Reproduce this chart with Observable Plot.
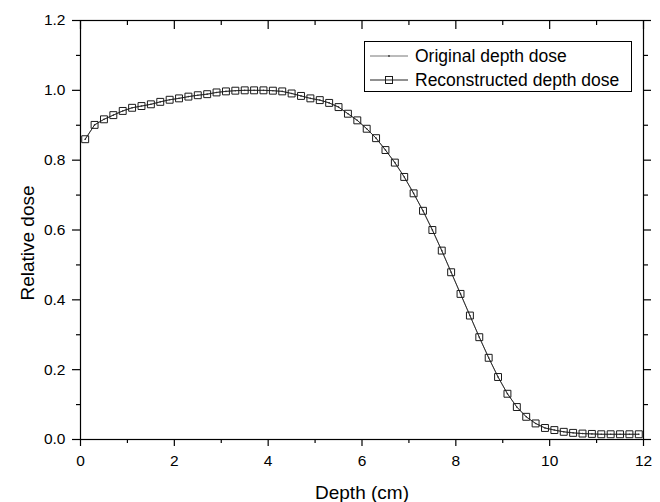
<!DOCTYPE html>
<html>
<head>
<meta charset="utf-8">
<script src="https://cdn.jsdelivr.net/npm/d3@7"></script>
<script src="https://cdn.jsdelivr.net/npm/@observablehq/plot@0.6"></script>
<style>
  body { margin: 0; background: #fff; }
  #chart { position: relative; width: 660px; height: 502px; }
</style>
</head>
<body>
<div id="chart"></div>
<script>
// Depth (cm) of each sampled point
const depth = [0.1, 0.3, 0.5, 0.7, 0.9, 1.1, 1.3, 1.5, 1.7, 1.9,
  2.1, 2.3, 2.5, 2.7, 2.9, 3.1, 3.3, 3.5, 3.7, 3.9,
  4.1, 4.3, 4.5, 4.7, 4.9, 5.1, 5.3, 5.5, 5.7, 5.9,
  6.1, 6.3, 6.5, 6.7, 6.9, 7.1, 7.3, 7.5, 7.7, 7.9,
  8.1, 8.3, 8.5, 8.7, 8.9, 9.1, 9.3, 9.5, 9.7, 9.9,
  10.1, 10.3, 10.5, 10.7, 10.9, 11.1, 11.3, 11.5, 11.7, 11.9];

// Original depth dose
const originalDose = [0.860, 0.901, 0.917, 0.929, 0.941, 0.950, 0.955, 0.960, 0.967, 0.973,
  0.977, 0.982, 0.986, 0.989, 0.994, 0.997, 0.999, 1.000, 1.000, 1.000,
  0.999, 0.997, 0.991, 0.984, 0.977, 0.972, 0.964, 0.952, 0.933, 0.914,
  0.890, 0.863, 0.829, 0.793, 0.752, 0.705, 0.655, 0.600, 0.541, 0.479,
  0.417, 0.355, 0.293, 0.234, 0.179, 0.131, 0.093, 0.065, 0.046, 0.033,
  0.027, 0.022, 0.019, 0.017, 0.016, 0.015, 0.015, 0.015, 0.015, 0.015];

// Reconstructed depth dose
const reconstructedDose = [0.860, 0.901, 0.917, 0.929, 0.941, 0.950, 0.955, 0.960, 0.967, 0.973,
  0.977, 0.982, 0.986, 0.989, 0.994, 0.997, 0.999, 1.000, 1.000, 1.000,
  0.999, 0.997, 0.991, 0.984, 0.977, 0.972, 0.964, 0.952, 0.933, 0.914,
  0.890, 0.863, 0.829, 0.793, 0.752, 0.705, 0.655, 0.600, 0.541, 0.479,
  0.417, 0.355, 0.293, 0.234, 0.179, 0.131, 0.093, 0.065, 0.046, 0.033,
  0.027, 0.022, 0.019, 0.017, 0.016, 0.015, 0.015, 0.015, 0.015, 0.015];

const xMajorTicks = [0, 2, 4, 6, 8, 10, 12];
const xMinorTicks = [1, 3, 5, 7, 9, 11];
const yMajorTicks = [0, 0.2, 0.4, 0.6, 0.8, 1.0, 1.2];
const yMinorTicks = [0.1, 0.3, 0.5, 0.7, 0.9, 1.1];

const xLabel = "Depth (cm)";
const yLabel = "Relative dose";
const seriesNames = ["Original depth dose", "Reconstructed depth dose"];

const original = depth.map((d, i) => ({depth: d, dose: originalDose[i]}));
const reconstructed = depth.map((d, i) => ({depth: d, dose: reconstructedDose[i]}));

const FONT = "'Liberation Sans', Arial, sans-serif";

const plot = Plot.plot({
  width: 660,
  height: 502,
  marginLeft: 80,
  marginRight: 17,
  marginTop: 20,
  marginBottom: 63,
  style: {fontFamily: FONT, fontSize: "15px", color: "#000", background: "#fff"},
  x: {domain: [0, 12]},
  y: {domain: [0, 1.2]},
  marks: [
    Plot.frame({stroke: "#000", strokeWidth: 1.2}),
    // bottom axis
    Plot.axisX({anchor: "bottom", ticks: xMajorTicks, tickSize: 7, tickPadding: 8, fontSize: 15.5, label: null, stroke: "#000", strokeWidth: 1.2}),
    Plot.axisX({anchor: "bottom", ticks: xMinorTicks, tickSize: 4, text: null, label: null, stroke: "#000", strokeWidth: 1.2}),
    // top axis (ticks inward)
    Plot.axisX({anchor: "top", ticks: xMajorTicks, tickSize: -8, text: null, label: null, stroke: "#000", strokeWidth: 1.2}),
    Plot.axisX({anchor: "top", ticks: xMinorTicks, tickSize: -4, text: null, label: null, stroke: "#000", strokeWidth: 1.2}),
    // left axis
    Plot.axisY({anchor: "left", ticks: yMajorTicks, tickSize: 8, tickPadding: 7, tickFormat: d3.format(".1f"), fontSize: 15.5, label: null, stroke: "#000", strokeWidth: 1.2}),
    Plot.axisY({anchor: "left", ticks: yMinorTicks, tickSize: 4, text: null, label: null, stroke: "#000", strokeWidth: 1.2}),
    // right axis
    Plot.axisY({anchor: "right", ticks: yMajorTicks, tickSize: 7, text: null, label: null, stroke: "#000", strokeWidth: 1.2}),
    Plot.axisY({anchor: "right", ticks: yMinorTicks, tickSize: 4, text: null, label: null, stroke: "#000", strokeWidth: 1.2}),
    // axis titles
    Plot.text([xLabel], {frameAnchor: "bottom", dy: 59, lineAnchor: "bottom", textAnchor: "middle", text: d => d, fontSize: 19, fill: "#000"}),
    Plot.text([yLabel], {frameAnchor: "left", dx: -47, dy: 13, rotate: -90, lineAnchor: "bottom", textAnchor: "middle", text: d => d, fontSize: 19, fill: "#000"}),
    // original series
    Plot.line(original, {x: "depth", y: "dose", stroke: "#777", strokeWidth: 0.8}),
    Plot.dot(original, {x: "depth", y: "dose", r: 0.8, fill: "#333", stroke: "none"}),
    // reconstructed series
    Plot.line(reconstructed, {x: "depth", y: "dose", stroke: "#222", strokeWidth: 0.9}),
    Plot.dot(reconstructed, {x: "depth", y: "dose", symbol: "square", r: 3.9, stroke: "#1a1a1a", strokeWidth: 1, fill: "none"})
  ]
});

document.getElementById("chart").appendChild(plot);

// Legend box (drawn into the same SVG)
const svg = d3.select(plot);
const lg = svg.append("g").attr("font-family", FONT).attr("font-size", 17.5).attr("text-anchor", "start");
lg.append("rect").attr("x", 364.5).attr("y", 41.5).attr("width", 267).attr("height", 50)
  .attr("fill", "#fff").attr("stroke", "#000").attr("stroke-width", 1);
const rows = [56, 80];
seriesNames.forEach((name, i) => {
  const y = rows[i];
  lg.append("line").attr("x1", 370).attr("x2", 408).attr("y1", y).attr("y2", y)
    .attr("stroke", i === 0 ? "#777" : "#222").attr("stroke-width", 1);
  if (i === 0) {
    lg.append("circle").attr("cx", 389).attr("cy", y).attr("r", 0.9).attr("fill", "#333");
  } else {
    lg.append("rect").attr("x", 385.5).attr("y", y - 3.5).attr("width", 7).attr("height", 7)
      .attr("fill", "none").attr("stroke", "#1a1a1a").attr("stroke-width", 1);
  }
  lg.append("text").attr("x", 415).attr("y", y + 6).attr("fill", "#000").attr("text-anchor", "start").text(name);
});
</script>
</body>
</html>
